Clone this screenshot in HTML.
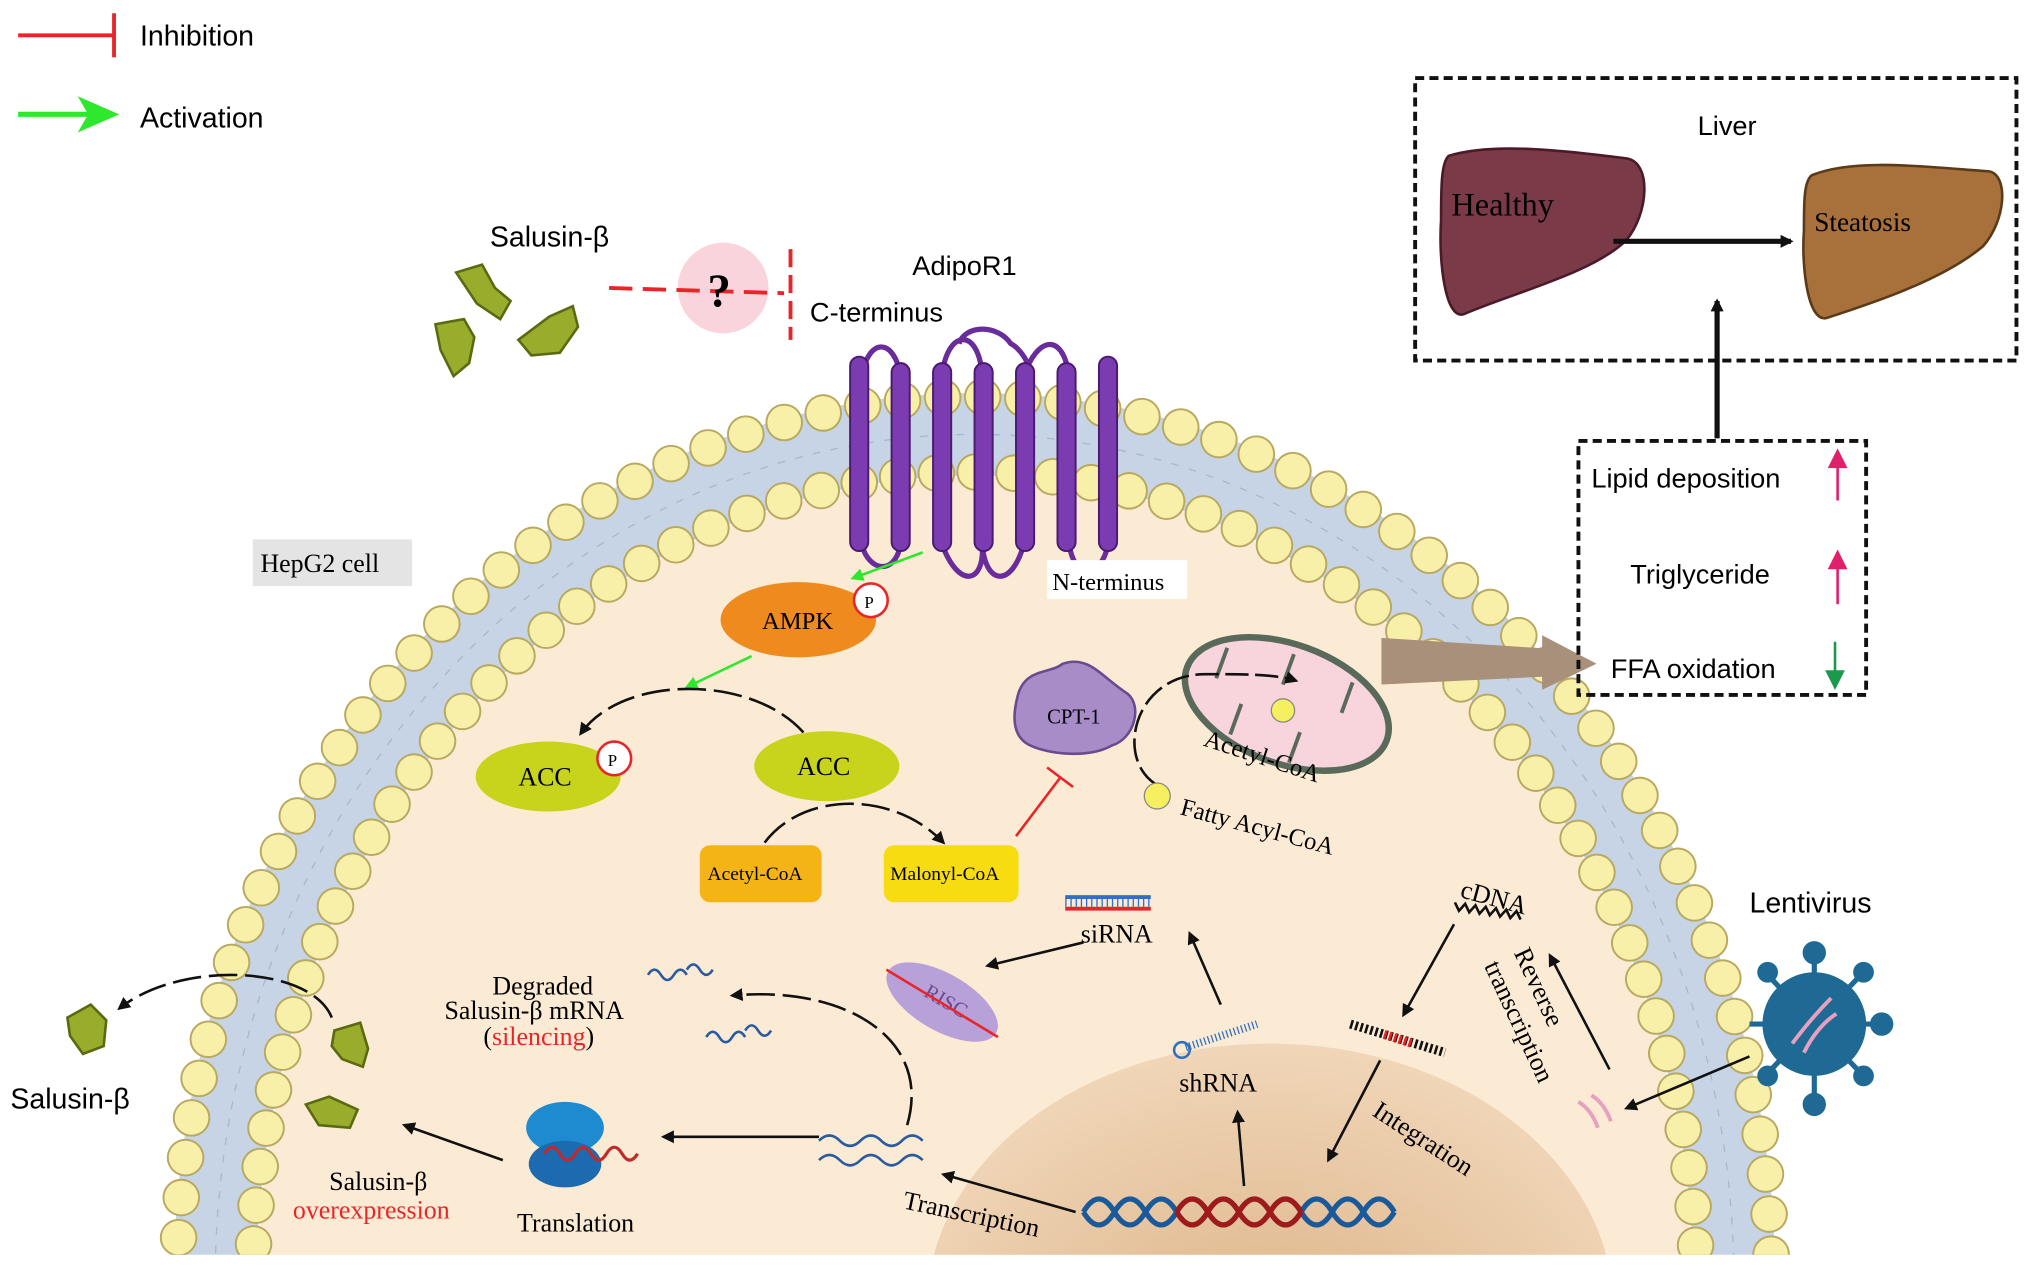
<!DOCTYPE html>
<html><head><meta charset="utf-8"><style>
html,body{margin:0;padding:0;background:#fff;width:2032px;height:1268px;overflow:hidden;}
svg{display:block;}
.s{font-family:"Liberation Sans",sans-serif;}
.t{font-family:"Liberation Serif",serif;}
</style></head><body>
<svg width="2032" height="1268" viewBox="0 0 1568 978" xmlns="http://www.w3.org/2000/svg">
<defs>
<marker id="ab" markerWidth="10" markerHeight="10" refX="8" refY="5" orient="auto" markerUnits="userSpaceOnUse"><path d="M0,0 L10,5 L0,10 z" fill="#111"/></marker>
<marker id="ag" markerWidth="10" markerHeight="10" refX="8" refY="5" orient="auto" markerUnits="userSpaceOnUse"><path d="M0,0 L10,5 L0,10 z" fill="#2ee82e"/></marker>
<radialGradient id="nuc" cx="0.5" cy="0.6" r="0.6"><stop offset="0" stop-color="#dcb286"/><stop offset="1" stop-color="#f0d6b8"/></radialGradient>
<clipPath id="cb"><rect x="0" y="0" width="1568" height="968"/></clipPath>
</defs>
<rect width="1568" height="978" fill="#fff"/>
<line x1="14" y1="27" x2="88" y2="27" stroke="#e8262a" stroke-width="3"/>
<line x1="88" y1="10" x2="88" y2="44" stroke="#e8262a" stroke-width="3"/>
<text x="108" y="35" class="s" font-size="22">Inhibition</text>
<line x1="14" y1="88" x2="70" y2="88" stroke="#2ee82e" stroke-width="4"/>
<path d="M60,74 L92,88 L60,102 L68,88z" fill="#2ee82e"/>
<text x="108" y="98" class="s" font-size="22">Activation</text>

<g clip-path="url(#cb)">
<ellipse cx="752" cy="990" rx="586" ry="655" fill="none" stroke="#c6d4e6" stroke-width="64"/>
<ellipse cx="752" cy="990" rx="586" ry="655" fill="none" stroke="#a8b8cc" stroke-width="1" stroke-dasharray="6 8"/>
<ellipse cx="752" cy="990" rx="553" ry="622" fill="#fcebd4"/>
<ellipse cx="980" cy="1010" rx="265" ry="205" fill="url(#nuc)"/>
<ellipse cx="752" cy="990" rx="615" ry="684" fill="none" stroke="#b8a860" stroke-width="29" stroke-linecap="round" stroke-dasharray="0 31"/>
<ellipse cx="752" cy="990" rx="615" ry="684" fill="none" stroke="#f8f0a8" stroke-width="26" stroke-linecap="round" stroke-dasharray="0 31"/>
<ellipse cx="752" cy="990" rx="557" ry="626" fill="none" stroke="#b8a860" stroke-width="29" stroke-linecap="round" stroke-dasharray="0 30"/>
<ellipse cx="752" cy="990" rx="557" ry="626" fill="none" stroke="#f8f0a8" stroke-width="26" stroke-linecap="round" stroke-dasharray="0 30"/>
</g>

<g stroke="#6a2c9a" stroke-width="4" fill="none">
<path d="M665,290 C670,260 690,260 695,290 M727,290 C730,255 755,250 758,290 M790,290 C800,260 820,255 825,290 M758,420 C760,450 740,455 727,420 M695,420 C690,445 670,440 665,420 M825,420 C830,450 850,445 855,420 M790,420 C780,455 760,450 758,420"/>
<path d="M740,265 C745,250 770,250 780,265 C790,270 800,290 790,290"/>
</g>
<g fill="#7a3cb0" stroke="#4a1a70" stroke-width="1.5">
<rect x="656" y="275" width="14" height="150" rx="7"/><rect x="688" y="280" width="14" height="145" rx="7"/>
<rect x="720" y="280" width="14" height="145" rx="7"/><rect x="752" y="280" width="14" height="145" rx="7"/>
<rect x="784" y="280" width="14" height="145" rx="7"/><rect x="816" y="280" width="14" height="145" rx="7"/>
<rect x="848" y="275" width="14" height="150" rx="7"/>
</g>
<text x="704" y="212" class="s" font-size="21">AdipoR1</text>
<text x="625" y="248" class="s" font-size="21">C-terminus</text>
<rect x="808" y="432" width="108" height="30" fill="#fff"/>
<text x="812" y="455" class="t" font-size="19">N-terminus</text>
<rect x="195" y="416" width="123" height="36" fill="#e4e4e4"/>
<text x="201" y="441" class="t" font-size="20">HepG2 cell</text>

<text x="378" y="190" class="s" font-size="22">Salusin-β</text>
<g fill="#9aac2c" stroke="#5a6a10" stroke-width="2">
<path d="M352,210 l20,-6 l10,18 l12,10 l-8,14 l-18,-12 z"/>
<path d="M336,250 l22,-4 l8,14 l-4,20 l-12,10 l-10,-20 z"/>
<path d="M400,262 l24,-18 l18,-8 l4,16 l-14,20 l-22,2 z"/>
</g>
<circle cx="558" cy="222" r="35" fill="#fad4dc"/>
<line x1="470" y1="222" x2="605" y2="226" stroke="#e8262a" stroke-width="3" stroke-dasharray="18 8"/>
<line x1="610" y1="192" x2="610" y2="262" stroke="#e8262a" stroke-width="3" stroke-dasharray="14 6"/>
<text x="546" y="236" class="t" font-size="36" font-weight="bold">?</text>

<line x1="712" y1="426" x2="658" y2="446" stroke="#2ee82e" stroke-width="2" marker-end="url(#ag)"/>
<ellipse cx="616" cy="478" rx="60" ry="29" fill="#ee8a1e"/>
<text x="588" y="485" class="t" font-size="19">AMPK</text>
<circle cx="672" cy="463" r="13" fill="#fff" stroke="#e8262a" stroke-width="2"/><text x="667" y="469" class="t" font-size="13">P</text>
<line x1="580" y1="506" x2="530" y2="530" stroke="#2ee82e" stroke-width="2" marker-end="url(#ag)"/>
<path d="M620,565 C580,520 480,520 448,566" fill="none" stroke="#111" stroke-width="2" stroke-dasharray="22 6" marker-end="url(#ab)"/>
<ellipse cx="423" cy="599" rx="56" ry="27" fill="#c8d41c"/>
<text x="400" y="606" class="t" font-size="20">ACC</text>
<circle cx="474" cy="585" r="13" fill="#fff" stroke="#e8262a" stroke-width="2"/><text x="469" y="591" class="t" font-size="13">P</text>
<ellipse cx="638" cy="591" rx="56" ry="27" fill="#c8d41c"/>
<text x="615" y="598" class="t" font-size="20">ACC</text>
<path d="M590,650 C620,610 690,610 728,650" fill="none" stroke="#111" stroke-width="2" stroke-dasharray="22 6" marker-end="url(#ab)"/>
<rect x="540" y="652" width="94" height="44" rx="8" fill="#f4b416"/>
<text x="546" y="679" class="t" font-size="15">Acetyl-CoA</text>
<rect x="682" y="652" width="104" height="44" rx="8" fill="#f6dc10"/>
<text x="687" y="679" class="t" font-size="15">Malonyl-CoA</text>
<line x1="784" y1="645" x2="818" y2="600" stroke="#e8262a" stroke-width="2"/>
<line x1="808" y1="592" x2="828" y2="607" stroke="#e8262a" stroke-width="2"/>

<path d="M785,538 C790,515 810,520 820,512 C840,505 850,522 870,535 C882,545 875,570 858,575 C840,585 810,582 795,575 C780,568 782,550 785,538z" fill="#a88cc8" stroke="#6a4a90" stroke-width="2"/>
<text x="808" y="558" class="t" font-size="16">CPT-1</text>
<g transform="rotate(20 993 543)">
<ellipse cx="993" cy="543" rx="82" ry="46" fill="#f8d4dc" stroke="#5a6a5a" stroke-width="5"/>
<path d="M935,543 l0,-25 M960,555 l0,25 M985,530 l0,-25 M1010,560 l0,25 M1035,535 l0,-25" stroke="#5a6a5a" stroke-width="3"/>
</g>
<circle cx="990" cy="548" r="9" fill="#f6f060" stroke="#888" stroke-width="1"/>
<path d="M892,605 C860,585 875,520 930,520 C960,520 985,520 1000,525" fill="none" stroke="#111" stroke-width="2" stroke-dasharray="18 5" marker-end="url(#ab)"/>
<text x="928" y="575" class="t" font-size="19" transform="rotate(18 928 575)">Acetyl-CoA</text>
<circle cx="893" cy="614" r="10" fill="#f6f060" stroke="#888"/>
<text x="910" y="628" class="t" font-size="19" transform="rotate(15 910 628)">Fatty Acyl-CoA</text>
<path d="M1066,492 L1190,500 L1190,490 L1232,512 L1190,532 L1190,522 L1066,528z" fill="#a8907a"/>

<rect x="1092" y="60" width="464" height="218" fill="none" stroke="#111" stroke-width="3" stroke-dasharray="7 4"/>
<text x="1310" y="104" class="s" font-size="21">Liver</text>
<path d="M1118,120 C1150,110 1200,115 1255,122 C1275,125 1272,165 1255,185 C1230,210 1170,225 1130,242 C1115,248 1110,200 1112,170 C1112,145 1112,125 1118,120z" fill="#7a3a48" stroke="#4a1a28" stroke-width="2"/>
<text x="1120" y="166" class="t" font-size="25">Healthy</text>
<line x1="1245" y1="186" x2="1382" y2="186" stroke="#111" stroke-width="4" marker-end="url(#ab)"/>
<path d="M1398,135 C1430,122 1480,128 1535,132 C1550,135 1548,170 1530,190 C1500,215 1450,232 1410,245 C1395,250 1390,205 1392,178 C1392,155 1392,140 1398,135z" fill="#a8703a" stroke="#5a3a18" stroke-width="2"/>
<text x="1400" y="178" class="t" font-size="21">Steatosis</text>
<line x1="1325" y1="338" x2="1325" y2="232" stroke="#111" stroke-width="4" marker-end="url(#ab)"/>
<rect x="1218" y="340" width="222" height="196" fill="none" stroke="#111" stroke-width="3" stroke-dasharray="7 4"/>
<text x="1228" y="376" class="s" font-size="21">Lipid deposition</text>
<text x="1258" y="450" class="s" font-size="21">Triglyceride</text>
<text x="1243" y="523" class="s" font-size="21">FFA oxidation</text>
<g stroke="#e0206a" stroke-width="2" fill="#e0206a"><line x1="1418" y1="386" x2="1418" y2="352"/><path d="M1412,360 L1418,348 L1424,360z"/><line x1="1418" y1="466" x2="1418" y2="430"/><path d="M1412,438 L1418,426 L1424,438z"/></g>
<g stroke="#1a9a4a" stroke-width="2" fill="#1a9a4a"><line x1="1416" y1="495" x2="1416" y2="525"/><path d="M1410,518 L1416,530 L1422,518z"/></g>

<text x="834" y="727" class="t" font-size="20">siRNA</text>
<line x1="822" y1="692" x2="888" y2="692" stroke="#3070c0" stroke-width="3"/>
<line x1="822" y1="701" x2="888" y2="701" stroke="#e8262a" stroke-width="3"/>
<line x1="822" y1="692" x2="888" y2="692" stroke="#3070c0" stroke-width="7" stroke-dasharray="1 3" transform="translate(0,4)"/>
<line x1="836" y1="727" x2="762" y2="745" stroke="#111" stroke-width="2" marker-end="url(#ab)"/>
<ellipse cx="727" cy="773" rx="48" ry="22" fill="#b8a0d8" transform="rotate(30 727 773)"/>
<text x="712" y="768" class="t" font-size="16" fill="#6a4a90" transform="rotate(30 712 768)">RISC</text>
<line x1="684" y1="748" x2="770" y2="800" stroke="#e8262a" stroke-width="2"/>
<text x="380" y="767" class="t" font-size="20">Degraded</text>
<text x="343" y="786" class="t" font-size="20">Salusin-β mRNA</text>
<text x="373" y="806" class="t" font-size="20">(<tspan fill="#e8262a">silencing</tspan>)</text>
<g stroke="#2a5aa0" stroke-width="2" fill="none">
<path d="M500,752 q5,-8 10,0 q5,8 10,0 q5,-8 10,0 M530,748 q5,-8 10,0 q5,8 10,0"/>
<path d="M545,800 q5,-8 10,0 q5,8 10,0 q5,-8 10,0 M575,795 q5,-8 10,0 q5,8 10,0"/>
</g>
<path d="M700,868 C720,800 650,760 565,768" fill="none" stroke="#111" stroke-width="2" stroke-dasharray="22 6" marker-end="url(#ab)"/>
<line x1="942" y1="775" x2="918" y2="720" stroke="#111" stroke-width="2" marker-end="url(#ab)"/>
<line x1="960" y1="915" x2="955" y2="858" stroke="#111" stroke-width="2" marker-end="url(#ab)"/>
<text x="910" y="842" class="t" font-size="20">shRNA</text>
<line x1="915" y1="808" x2="970" y2="790" stroke="#3070c0" stroke-width="6" stroke-dasharray="1 2"/>
<circle cx="912" cy="810" r="6" fill="none" stroke="#3070c0" stroke-width="2"/>
<text x="1126" y="692" class="t" font-size="20" transform="rotate(15 1126 692)">cDNA</text>
<path d="M1122,700 l4,6 l4,-6 l4,6 l4,-6 l4,6 l4,-6 l4,6 l4,-6 l4,6 l4,-6 l4,6 l4,-6 l4,6" fill="none" stroke="#111" stroke-width="2" transform="rotate(8 1150 703)"/>
<line x1="1122" y1="713" x2="1083" y2="783" stroke="#111" stroke-width="2" marker-end="url(#ab)"/>
<line x1="1042" y1="790" x2="1115" y2="812" stroke="#111" stroke-width="7" stroke-dasharray="2 2"/>
<line x1="1068" y1="798" x2="1090" y2="805" stroke="#e8262a" stroke-width="7" stroke-dasharray="2 2"/>
<line x1="1065" y1="818" x2="1025" y2="895" stroke="#111" stroke-width="2" marker-end="url(#ab)"/>
<text x="1058" y="860" class="t" font-size="20" transform="rotate(33 1058 860)">Integration</text>
<text x="1168" y="735" class="t" font-size="20" transform="rotate(65 1168 735)">Reverse</text>
<text x="1145" y="745" class="t" font-size="20" transform="rotate(65 1145 745)">transcription</text>
<line x1="1242" y1="825" x2="1196" y2="737" stroke="#111" stroke-width="2" marker-end="url(#ab)"/>
<path d="M1218,850 q10,6 15,20 M1228,845 q10,6 15,20" stroke="#e8a0c0" stroke-width="3" fill="none"/>
<line x1="1350" y1="815" x2="1255" y2="855" stroke="#111" stroke-width="2" marker-end="url(#ab)"/>
<text x="1350" y="704" class="s" font-size="22">Lentivirus</text>
<g fill="#1e6a94" stroke="#1e6a94" stroke-width="4">
<line x1="1400" y1="790" x2="1400" y2="738"/><line x1="1400" y1="790" x2="1400" y2="850"/><line x1="1400" y1="790" x2="1450" y2="790"/><line x1="1400" y1="790" x2="1350" y2="790"/>
<line x1="1400" y1="790" x2="1436" y2="752"/><line x1="1400" y1="790" x2="1364" y2="752"/><line x1="1400" y1="790" x2="1436" y2="828"/><line x1="1400" y1="790" x2="1364" y2="828"/>
<circle cx="1400" cy="735" r="7"/><circle cx="1400" cy="852" r="7"/><circle cx="1452" cy="790" r="7"/><circle cx="1438" cy="750" r="6"/><circle cx="1364" cy="750" r="6"/><circle cx="1438" cy="830" r="6"/><circle cx="1364" cy="830" r="6"/>
<circle cx="1400" cy="790" r="38"/>
</g>
<path d="M1383,805 q15,-20 30,-35 M1392,812 q10,-20 25,-30" stroke="#e8a0c0" stroke-width="3" fill="none"/>
<path d="M836,935 q12,-20 24,0 q12,20 24,0 q12,-20 24,0 q12,20 24,0 q12,-20 24,0 q12,20 24,0 q12,-20 24,0 q12,20 24,0 q12,-20 24,0 q12,20 24,0" fill="none" stroke="#1a5a9a" stroke-width="4"/>
<path d="M836,935 q12,20 24,0 q12,-20 24,0 q12,20 24,0 q12,-20 24,0 q12,20 24,0 q12,-20 24,0 q12,20 24,0 q12,-20 24,0 q12,20 24,0 q12,-20 24,0" fill="none" stroke="#1a5a9a" stroke-width="4"/>
<path d="M908,935 q12,-20 24,0 q12,20 24,0 q12,-20 24,0 q12,20 24,0" fill="none" stroke="#a01a1a" stroke-width="4"/>
<path d="M908,935 q12,20 24,0 q12,-20 24,0 q12,20 24,0 q12,-20 24,0" fill="none" stroke="#a01a1a" stroke-width="4"/>
<line x1="830" y1="935" x2="728" y2="906" stroke="#111" stroke-width="2" marker-end="url(#ab)"/>
<text x="696" y="932" class="t" font-size="20" transform="rotate(12 696 932)">Transcription</text>
<path d="M632,880 q8,-8 16,0 q8,8 16,0 q8,-8 16,0 q8,8 16,0 q8,-8 16,0 M632,895 q8,-8 16,0 q8,8 16,0 q8,-8 16,0 q8,8 16,0 q8,-8 16,0" fill="none" stroke="#2a5aa0" stroke-width="2"/>
<line x1="632" y1="877" x2="512" y2="877" stroke="#111" stroke-width="2" marker-end="url(#ab)"/>
<ellipse cx="436" cy="870" rx="30" ry="20" fill="#1e8ad0"/>
<ellipse cx="436" cy="898" rx="28" ry="18" fill="#1e6ab0"/>
<path d="M420,890 q6,-10 12,0 q6,10 12,0 q6,-10 12,0 q6,10 12,0 q6,-10 12,0 q6,10 12,0" fill="none" stroke="#c02a2a" stroke-width="2.5"/>
<text x="399" y="950" class="t" font-size="20">Translation</text>
<line x1="388" y1="895" x2="312" y2="868" stroke="#111" stroke-width="2" marker-end="url(#ab)"/>
<text x="254" y="918" class="t" font-size="20">Salusin-β</text>
<text x="226" y="940" class="t" font-size="20" fill="#e8262a">overexpression</text>
<path d="M256,785 C240,745 140,740 92,778" fill="none" stroke="#111" stroke-width="2" stroke-dasharray="22 6" marker-end="url(#ab)"/>
<g fill="#9aac2c" stroke="#5a6a10" stroke-width="2">
<path d="M52,785 l18,-10 l12,12 l-2,20 l-16,6 l-10,-14z"/>
<path d="M258,795 l20,-6 l6,20 l-4,14 l-16,-6 l-8,-10z"/>
<path d="M236,852 l18,-6 l22,10 l-6,14 l-24,-2z"/>
</g>
<text x="8" y="855" class="s" font-size="22">Salusin-β</text>
</svg>
</body></html>
